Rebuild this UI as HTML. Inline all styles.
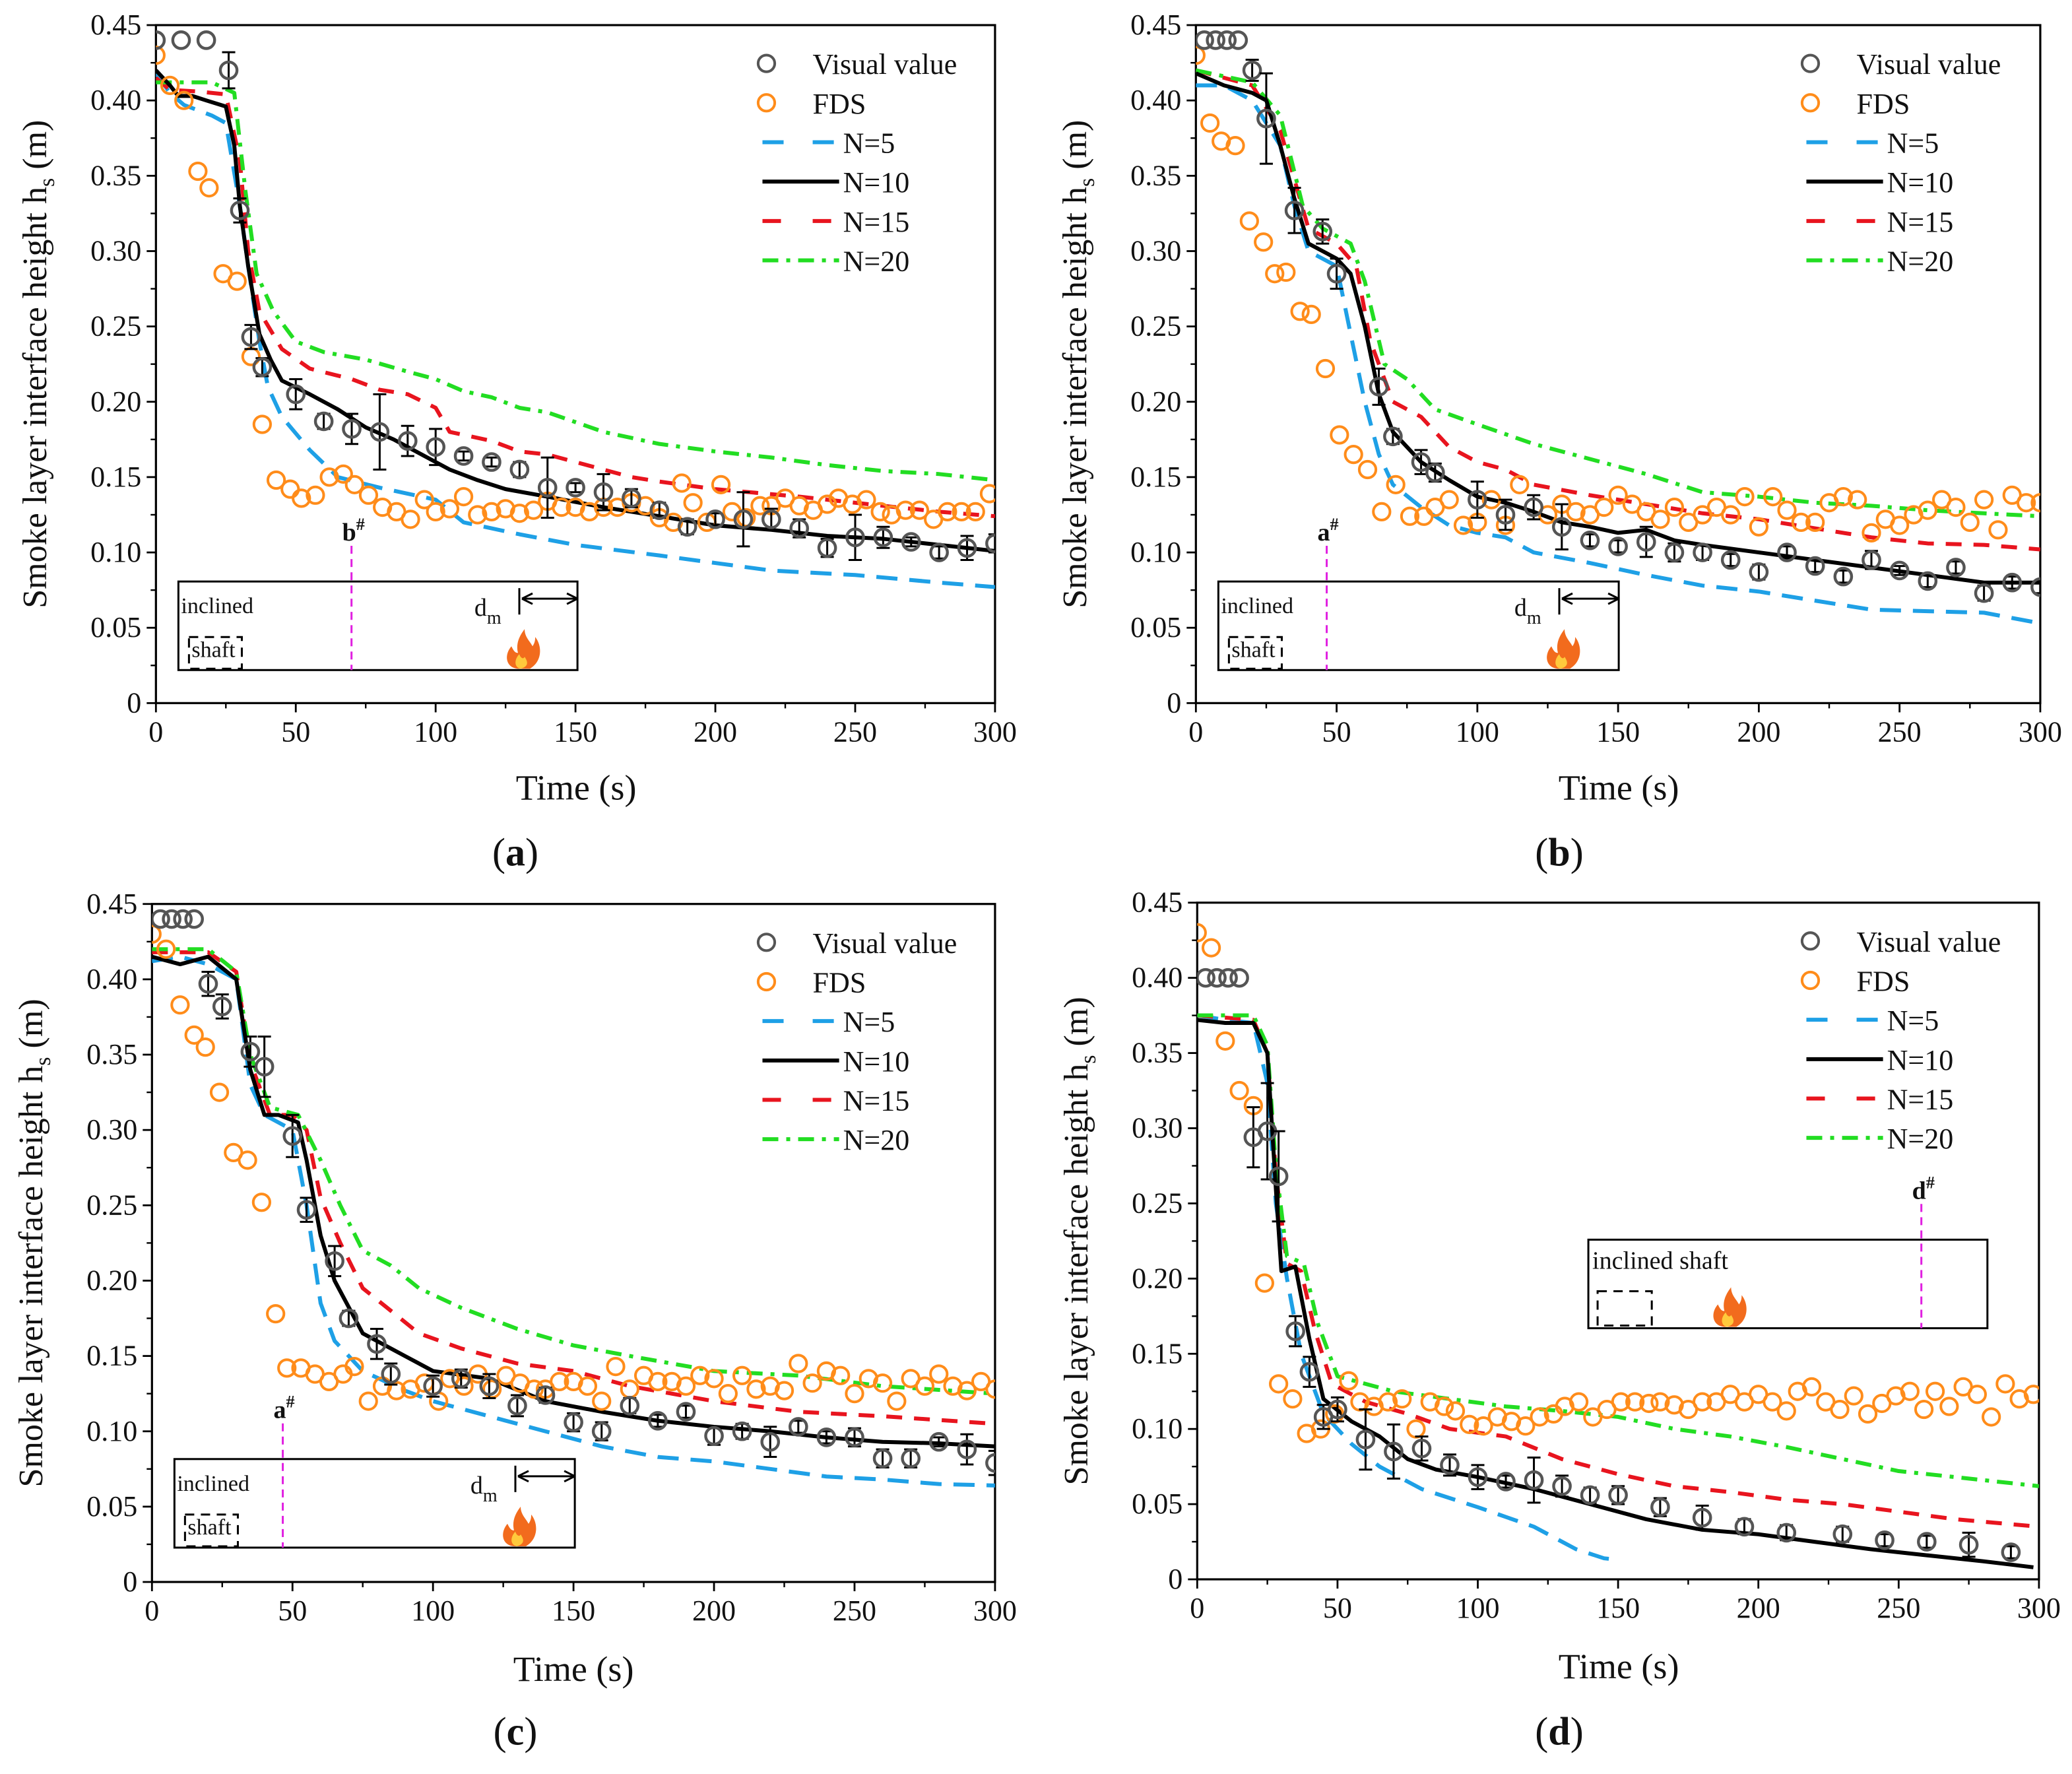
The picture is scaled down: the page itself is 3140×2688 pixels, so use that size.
<!DOCTYPE html>
<html><head><meta charset="utf-8"><style>
html,body{margin:0;padding:0;background:#fff;}
svg{display:block;font-family:"Liberation Serif","DejaVu Serif",serif;}
svg text{font-family:"Liberation Serif","DejaVu Serif",serif;fill:#111;}
</style></head><body>
<svg id="fig" width="3140" height="2688" viewBox="0 0 1568 1342.3" font-family="Liberation Serif, DejaVu Serif, serif" xmlns="http://www.w3.org/2000/svg"></svg>
<script>
// ---- Panel (a) data ----
const aVisT=[0,9,18,26,30,34,38,50,60,70,80,90,100,110,120,130,140,150,160,170,180,190,200,210,220,230,240,250,260,270,280,290,300];
const aVisV=[0.44,0.44,0.44,0.42,0.327,0.243,0.223,0.205,0.187,0.182,0.18,0.174,0.17,0.164,0.16,0.155,0.143,0.143,0.14,0.136,0.128,0.117,0.122,0.122,0.122,0.116,0.103,0.11,0.11,0.107,0.1,0.103,0.106];
const aVisE=[0,0,0,0.012,0.008,0.008,0.006,0.01,0.005,0.01,0.025,0.01,0.012,0.003,0.003,0.005,0.02,0.003,0.012,0.006,0.005,0.005,0.004,0.018,0.007,0.006,0.006,0.015,0.007,0.003,0.004,0.008,0.006];
const aFdsT=[0,5,10,15,19,24,29,34,38,43,48,52,57,62,67,71,76,81,86,91,96,100,105,110,115,120,125,130,135,140,145,150,155,160,165,170,175,180,185,188,192,197,202,206,211,216,220,225,230,235,240,244,249,254,259,263,268,273,278,283,288,293,298];
const aFdsV=[0.43,0.41,0.40,0.353,0.342,0.285,0.28,0.23,0.185,0.148,0.142,0.136,0.138,0.15,0.152,0.145,0.138,0.13,0.127,0.122,0.135,0.127,0.129,0.137,0.125,0.127,0.129,0.126,0.128,0.134,0.13,0.13,0.127,0.13,0.13,0.133,0.131,0.123,0.12,0.146,0.133,0.12,0.145,0.127,0.123,0.131,0.131,0.136,0.131,0.128,0.132,0.136,0.132,0.135,0.127,0.125,0.128,0.128,0.122,0.127,0.127,0.127,0.139];
const aN5T=[0,5,10,20,25,30,33,37,40,45,55,65,80,100,110,130,150,180,200,220,250,280,300];
const aN5V=[0.418,0.405,0.397,0.39,0.385,0.33,0.29,0.24,0.21,0.19,0.168,0.15,0.143,0.135,0.12,0.112,0.105,0.098,0.093,0.088,0.085,0.08,0.077];
const aN10T=[0,5,8,13,18,25,28,30,33,37,41,45,55,65,75,85,95,100,105,115,125,140,160,180,200,220,240,260,280,300];
const aN10V=[0.42,0.41,0.403,0.403,0.4,0.396,0.37,0.33,0.29,0.245,0.228,0.214,0.205,0.195,0.183,0.175,0.165,0.16,0.155,0.148,0.142,0.137,0.13,0.124,0.118,0.115,0.111,0.109,0.105,0.101];
const aN15T=[0,5,15,25,30,33,37,45,55,70,80,90,100,105,120,130,140,150,170,180,200,230,260,280,300];
const aN15V=[0.415,0.407,0.406,0.404,0.36,0.3,0.26,0.235,0.222,0.215,0.208,0.205,0.196,0.18,0.174,0.167,0.165,0.16,0.15,0.147,0.142,0.137,0.131,0.127,0.124];
const aN20T=[0,10,20,28,32,36,42,50,60,75,90,100,110,120,130,140,160,180,200,220,240,260,280,300];
const aN20V=[0.412,0.412,0.412,0.405,0.34,0.285,0.26,0.24,0.233,0.228,0.22,0.215,0.207,0.203,0.196,0.193,0.18,0.172,0.167,0.163,0.158,0.154,0.152,0.148];
// ---- Panel (b) data ----
const bVisT=[3,7,11,15,20,25,35,45,50,65,70,80,85,100,110,120,130,140,150,160,170,180,190,200,210,220,230,240,250,260,270,280,290,300];
const bVisV=[0.44,0.44,0.44,0.44,0.42,0.388,0.327,0.313,0.285,0.21,0.177,0.16,0.153,0.135,0.125,0.13,0.117,0.108,0.104,0.107,0.1,0.1,0.095,0.087,0.1,0.091,0.084,0.095,0.088,0.081,0.09,0.073,0.08,0.077];
const bVisE=[0,0,0,0,0.007,0.03,0.015,0.008,0.01,0.012,0.005,0.008,0.006,0.012,0.01,0.008,0.015,0.004,0.004,0.01,0.006,0.005,0.004,0.005,0.004,0.004,0.004,0.006,0.003,0.004,0.004,0.005,0.004,0.004];
const bFdsT=[0,5,9,14,19,24,28,32,37,41,46,51,56,61,66,71,76,81,85,90,95,100,105,110,115,120,125,130,135,140,145,150,155,160,165,170,175,180,185,190,195,200,205,210,215,220,225,230,235,240,245,250,255,260,265,270,275,280,285,290,295,300];
const bFdsV=[0.43,0.385,0.373,0.37,0.32,0.306,0.285,0.286,0.26,0.258,0.222,0.178,0.165,0.155,0.127,0.145,0.124,0.124,0.13,0.135,0.118,0.12,0.135,0.118,0.145,0.13,0.125,0.132,0.127,0.125,0.13,0.138,0.132,0.127,0.122,0.13,0.12,0.125,0.13,0.125,0.137,0.117,0.137,0.128,0.12,0.12,0.133,0.137,0.135,0.113,0.122,0.118,0.125,0.128,0.135,0.13,0.12,0.135,0.115,0.138,0.133,0.133];
const bN5T=[0,10,20,30,35,40,50,55,60,65,70,80,90,100,110,120,140,160,180,200,220,240,260,280,300];
const bN5V=[0.41,0.41,0.4,0.37,0.33,0.3,0.29,0.245,0.2,0.165,0.145,0.13,0.118,0.113,0.11,0.1,0.093,0.085,0.078,0.074,0.068,0.062,0.061,0.06,0.053];
const bN10T=[0,10,20,25,30,35,40,45,50,55,60,65,70,80,90,100,110,120,130,140,150,160,170,180,200,220,240,260,280,300];
const bN10V=[0.418,0.41,0.405,0.4,0.37,0.335,0.305,0.3,0.295,0.285,0.25,0.205,0.18,0.16,0.148,0.137,0.133,0.127,0.12,0.117,0.113,0.115,0.108,0.105,0.1,0.095,0.09,0.085,0.08,0.08];
const bN15T=[0,20,30,40,50,57,62,70,80,90,100,110,120,140,160,180,200,220,240,260,280,300];
const bN15V=[0.42,0.41,0.38,0.315,0.305,0.29,0.24,0.2,0.19,0.17,0.16,0.155,0.145,0.138,0.132,0.126,0.122,0.116,0.11,0.106,0.105,0.102];
const bN20T=[0,20,30,38,45,55,60,67,75,85,100,120,140,160,180,200,220,240,260,280,300];
const bN20V=[0.42,0.412,0.39,0.33,0.315,0.305,0.28,0.225,0.215,0.195,0.185,0.172,0.162,0.152,0.14,0.137,0.133,0.131,0.128,0.126,0.124];
// ---- Panel (c) data ----
const cVisT=[3,7,11,15,20,25,35,40,50,55,65,70,80,85,100,110,120,130,140,150,160,170,180,190,200,210,220,230,240,250,260,270,280,290,300];
const cVisV=[0.44,0.44,0.44,0.44,0.397,0.382,0.352,0.342,0.296,0.247,0.213,0.175,0.158,0.138,0.13,0.135,0.13,0.117,0.124,0.106,0.1,0.117,0.107,0.113,0.097,0.1,0.093,0.103,0.096,0.096,0.082,0.082,0.093,0.088,0.079];
const cVisE=[0,0,0,0,0.008,0.008,0.01,0.02,0.014,0.008,0.01,0.005,0.01,0.007,0.007,0.006,0.008,0.007,0.005,0.006,0.006,0.005,0.004,0.004,0.006,0.005,0.01,0.004,0.004,0.006,0.006,0.006,0.003,0.01,0.008];
const cFdsT=[0,5,10,15,19,24,29,34,39,44,48,53,58,63,68,72,77,82,87,92,97,102,106,111,116,121,126,131,136,140,145,150,155,160,165,170,175,180,185,190,195,200,205,210,215,220,225,230,235,240,245,250,255,260,265,270,275,280,285,290,295,300];
const cFdsV=[0.43,0.42,0.383,0.363,0.355,0.325,0.285,0.28,0.252,0.178,0.142,0.142,0.138,0.133,0.138,0.143,0.12,0.13,0.127,0.128,0.132,0.12,0.135,0.13,0.138,0.128,0.137,0.132,0.128,0.128,0.133,0.133,0.13,0.12,0.143,0.128,0.137,0.133,0.133,0.13,0.137,0.135,0.125,0.137,0.128,0.13,0.127,0.145,0.132,0.14,0.137,0.125,0.135,0.132,0.12,0.135,0.13,0.138,0.13,0.127,0.133,0.128];
const cN5T=[0,10,20,30,35,40,45,50,55,60,65,75,90,100,120,140,160,180,200,220,240,260,280,300];
const cN5V=[0.412,0.415,0.41,0.4,0.33,0.31,0.305,0.3,0.25,0.185,0.16,0.14,0.127,0.12,0.11,0.1,0.09,0.083,0.08,0.075,0.07,0.068,0.065,0.064];
const cN10T=[0,10,20,30,35,40,45,52,55,60,65,75,90,100,120,140,160,180,200,220,240,260,280,300];
const cN10V=[0.415,0.41,0.415,0.4,0.34,0.31,0.31,0.305,0.28,0.23,0.2,0.165,0.15,0.14,0.135,0.12,0.113,0.107,0.103,0.1,0.096,0.093,0.092,0.09];
const cN15T=[0,20,30,35,42,50,55,60,67,75,85,95,110,130,150,170,200,230,260,300];
const cN15V=[0.418,0.418,0.405,0.345,0.31,0.31,0.3,0.255,0.225,0.195,0.18,0.165,0.155,0.145,0.14,0.13,0.12,0.113,0.11,0.105];
const cN20T=[0,20,30,35,42,52,60,67,75,85,95,110,130,150,170,200,230,260,300];
const cN20V=[0.42,0.42,0.405,0.35,0.315,0.31,0.28,0.25,0.22,0.21,0.195,0.182,0.168,0.157,0.15,0.14,0.137,0.13,0.125];
// ---- Panel (d) data ----
const dVisT=[3,7,11,15,20,25,29,35,40,45,50,60,70,80,90,100,110,120,130,140,150,165,180,195,210,230,245,260,275,290];
const dVisV=[0.40,0.40,0.40,0.40,0.294,0.298,0.268,0.165,0.138,0.108,0.113,0.093,0.085,0.087,0.076,0.068,0.065,0.066,0.062,0.056,0.056,0.048,0.041,0.035,0.031,0.03,0.026,0.025,0.023,0.018];
const dVisE=[0,0,0,0,0.02,0.032,0.03,0.01,0.01,0.008,0.008,0.02,0.018,0.008,0.007,0.008,0.004,0.015,0.007,0.005,0.006,0.006,0.008,0.005,0.005,0.005,0.004,0.004,0.008,0.004];
const dFdsT=[0,5,10,15,20,24,29,34,39,44,49,54,58,63,68,73,78,83,88,92,97,102,107,112,117,122,127,131,136,141,146,151,156,161,165,170,175,180,185,190,195,200,205,210,214,219,224,229,234,239,244,249,254,259,263,268,273,278,283,288,293,298];
const dFdsV=[0.43,0.42,0.358,0.325,0.315,0.197,0.13,0.12,0.097,0.1,0.11,0.132,0.118,0.115,0.118,0.12,0.1,0.118,0.115,0.112,0.103,0.102,0.108,0.105,0.102,0.108,0.11,0.115,0.118,0.108,0.113,0.118,0.118,0.117,0.118,0.116,0.113,0.118,0.118,0.123,0.118,0.123,0.118,0.112,0.125,0.128,0.118,0.113,0.122,0.11,0.117,0.122,0.125,0.113,0.125,0.115,0.128,0.123,0.108,0.13,0.12,0.123];
const dN5T=[0,10,20,25,28,32,37,45,55,65,80,100,120,135,145,150];
const dN5V=[0.375,0.372,0.37,0.33,0.25,0.2,0.15,0.11,0.09,0.075,0.06,0.048,0.035,0.02,0.014,0.013];
const dN10T=[0,10,20,25,28,30,35,40,45,55,65,75,85,100,120,140,160,180,200,220,240,260,280,298];
const dN10V=[0.372,0.37,0.37,0.35,0.26,0.205,0.208,0.16,0.12,0.105,0.095,0.08,0.073,0.068,0.06,0.05,0.04,0.033,0.03,0.025,0.02,0.016,0.012,0.008];
const dN15T=[0,20,25,28,32,37,42,48,60,75,90,110,130,150,170,190,210,230,250,270,300];
const dN15V=[0.375,0.372,0.35,0.27,0.21,0.205,0.165,0.13,0.118,0.11,0.1,0.095,0.08,0.07,0.062,0.058,0.053,0.05,0.045,0.04,0.035];
const dN20T=[0,20,25,28,32,38,43,50,70,90,110,130,150,170,190,210,230,250,270,300];
const dN20V=[0.375,0.375,0.355,0.275,0.215,0.21,0.17,0.135,0.125,0.12,0.115,0.112,0.108,0.1,0.095,0.088,0.08,0.072,0.068,0.062];
// ---- axis ticks ----
const xTicks=[0,50,100,150,200,250,300];
const yTicks=[0,0.05,0.10,0.15,0.20,0.25,0.30,0.35,0.40,0.45];
const yTickLabels=["0","0.05","0.10","0.15","0.20","0.25","0.30","0.35","0.40","0.45"];
const legendLabels=["Visual value","FDS","N=5","N=10","N=15","N=20"];

const NS="http://www.w3.org/2000/svg";
const svg=document.getElementById('fig');
const FF='"Liberation Serif", "DejaVu Serif", serif';
function mk(tag,attrs,parent){const e=document.createElementNS(NS,tag);for(const k in attrs)e.setAttribute(k,attrs[k]);if(tag==='text')e.setAttribute('font-family',FF);(parent||svg).appendChild(e);return e;}
const C={vis:'#555',fds:'#FF8C1A',n5:'#1EA0E6',n10:'#000',n15:'#E8141E',n20:'#22DD22'};

const panels=[
 {id:'a',x0:118,x1:753,y0:532,y1:19,d:[aVisT,aVisV,aVisE,aFdsT,aFdsV,aN5T,aN5V,aN10T,aN10V,aN15T,aN15V,aN20T,aN20V],leg:[580,48],lab:[390,655],xt:[436,605],inset:{x:135,y:440,w:302,h:67,m:266,ml:'b',type:1}},
 {id:'b',x0:905,x1:1544,y0:532,y1:19,d:[bVisT,bVisV,bVisE,bFdsT,bFdsV,bN5T,bN5V,bN10T,bN10V,bN15T,bN15V,bN20T,bN20V],leg:[1370,48],lab:[1180,655],xt:[1225,605],inset:{x:922,y:440,w:303,h:67,m:1004,ml:'a',type:1}},
 {id:'c',x0:115,x1:753,y0:1197,y1:684,d:[cVisT,cVisV,cVisE,cFdsT,cFdsV,cN5T,cN5V,cN10T,cN10V,cN15T,cN15V,cN20T,cN20V],leg:[580,713],lab:[390,1320],xt:[434,1272],inset:{x:132,y:1104,w:303,h:67,m:214,ml:'a',type:1}},
 {id:'d',x0:906,x1:1543,y0:1195,y1:683,d:[dVisT,dVisV,dVisE,dFdsT,dFdsV,dN5T,dN5V,dN10T,dN10V,dN15T,dN15V,dN20T,dN20V],leg:[1370,712],lab:[1180,1320],xt:[1225,1270],inset:{x:1202,y:938,w:302,h:67,m:1454,ml:'d',type:2}}
];

panels.forEach(p=>{
 const g=mk('g',{});
 
 
 const X=t=>p.x0+(p.x1-p.x0)*t/300;
 const Y=v=>p.y0+(p.y1-p.y0)*v/0.45;
 const cp=mk('clipPath',{id:'clip'+p.id},g);
 mk('rect',{x:p.x0,y:p.y1,width:p.x1-p.x0,height:p.y0-p.y1},cp);
 const I=p.inset;
 const ig=mk('g',{},g);
 
 
 mk('rect',{x:I.x,y:I.y,width:I.w,height:I.h,fill:'#fff',stroke:'#000','stroke-width':1.5},ig);
 let fx;
 if(I.type===1){
  const t1=mk('text',{x:I.x+2,y:I.y+24,'font-size':17},ig);t1.textContent='inclined';
  mk('rect',{x:I.x+8,y:I.y+42,width:40,height:24,fill:'none',stroke:'#000','stroke-width':1.5,'stroke-dasharray':'7,5'},ig);
  const t2=mk('text',{x:I.x+10,y:I.y+57,'font-size':17},ig);t2.textContent='shaft';
  const dm=mk('text',{x:I.x+224,y:I.y+26,'font-size':19},ig);dm.innerHTML='d<tspan font-size="14" dy="6">m</tspan>';
  mk('line',{x1:I.x+258,y1:I.y+5,x2:I.x+258,y2:I.y+25,stroke:'#000','stroke-width':1.5},ig);
  mk('line',{x1:I.x+260,y1:I.y+13,x2:I.x+I.w,y2:I.y+13,stroke:'#000','stroke-width':1.5},ig);
  mk('path',{d:`M${I.x+260},${I.y+13} l8,-4 M${I.x+260},${I.y+13} l8,4 M${I.x+I.w},${I.y+13} l-8,-4 M${I.x+I.w},${I.y+13} l-8,4`,stroke:'#000','stroke-width':1.5,fill:'none'},ig);
  fx=I.x+258;
 } else {
  const t1=mk('text',{x:I.x+3,y:I.y+22,'font-size':19},ig);t1.textContent='inclined shaft';
  mk('rect',{x:I.x+7,y:I.y+39,width:41,height:26,fill:'none',stroke:'#000','stroke-width':1.5,'stroke-dasharray':'7,5'},ig);
  fx=I.x+104;
 }
 mk('path',{d:`M${fx},${I.y+66} c-10,0 -12,-10 -6,-17 c2,4 3,5 5,5 c-2,-8 2,-14 5,-18 c0,6 4,9 6,13 c2,-3 2,-5 2,-7 c5,6 6,18 -4,24 z`,fill:'#F26B1D'},ig);
 mk('path',{d:`M${fx+1},${I.y+66} c-5,-1 -5,-7 -1,-11 c1,3 3,4 4,2 c2,3 4,7 -3,9 z`,fill:'#FFC93C'},ig);
 const ml=mk('line',{x1:I.m,y1:I.y-27,x2:I.m,y2:I.y+I.h,stroke:'#E020E0','stroke-width':1.5,'stroke-dasharray':'6,4'},ig);
 
 
 const mt=mk('text',{x:I.m-7,y:I.y-31,'font-size':19,'font-weight':'bold'},ig);mt.innerHTML=I.ml+'<tspan font-size="13" dy="-8">#</tspan>';
 const fr=mk('rect',{x:p.x0,y:p.y1,width:p.x1-p.x0,height:p.y0-p.y1,fill:'none',stroke:'#000','stroke-width':1.6},g);
 
 
 xTicks.forEach((t,i)=>{
  mk('line',{x1:X(t),y1:p.y0,x2:X(t),y2:p.y0+7,stroke:'#000','stroke-width':1.4},g);
  if(i<xTicks.length-1) mk('line',{x1:X(t+25),y1:p.y0,x2:X(t+25),y2:p.y0+4,stroke:'#000','stroke-width':1.2},g);
  const tx=mk('text',{x:X(t),y:p.y0+29,'font-size':22,'text-anchor':'middle'},g);
  tx.textContent=t;
  
  
 });
 yTicks.forEach((v,i)=>{
  mk('line',{x1:p.x0,y1:Y(v),x2:p.x0-7,y2:Y(v),stroke:'#000','stroke-width':1.4},g);
  if(i<yTicks.length-1) mk('line',{x1:p.x0,y1:Y(v+0.025),x2:p.x0-4,y2:Y(v+0.025),stroke:'#000','stroke-width':1.2},g);
  const ty=mk('text',{x:p.x0-11,y:Y(v)+7,'font-size':22,'text-anchor':'end'},g);
  ty.textContent=yTickLabels[i];
  
  
 });
 const xt=mk('text',{x:p.xt[0],y:p.xt[1],'font-size':27,'text-anchor':'middle'},g);
 xt.textContent='Time (s)';
 
 
 const ym=(p.y0+p.y1)/2;
 const ytx=p.x0-83;
 const yt=mk('text',{x:ytx,y:ym,'font-size':26,'text-anchor':'middle',transform:`rotate(-90 ${ytx} ${ym})`},g);
 yt.innerHTML='Smoke layer interface height  h<tspan font-size="17" dy="6">s</tspan><tspan dy="-6"> (m)</tspan>';
 
 
 const pl=mk('text',{x:p.lab[0],y:p.lab[1],'font-size':30,'text-anchor':'middle'},g);
 pl.innerHTML='(<tspan font-weight="bold">'+p.id+'</tspan>)';
 
 
 const dg=mk('g',{'clip-path':`url(#clip${p.id})`},g);
 const [vt,vv,ve,ft,fv,t5,v5,t10,v10,t15,v15,t20,v20]=p.d;
 const line=(T,V,col,dash,name)=>{
  const el=mk('path',{d:T.map((t,i)=>(i?'L':'M')+X(t).toFixed(1)+','+Y(V[i]).toFixed(1)).join(''),fill:'none',stroke:col,'stroke-width':3,'stroke-dasharray':dash,'stroke-linejoin':'round'},dg);
  
  
 };
 line(t5,v5,C.n5,'16,9','line-n5');
 line(t15,v15,C.n15,'12,9','line-n15');
 line(t20,v20,C.n20,'12,6,3,6','line-n20');
 line(t10,v10,C.n10,'none','line-n10');
 ft.forEach((t,i)=>{
  const c=mk('circle',{cx:X(t),cy:Y(fv[i]),r:6.3,fill:'none',stroke:C.fds,'stroke-width':2},dg);
  
  
 });
 vt.forEach((t,i)=>{
  if(ve[i]>0){
   const x=X(t),ya=Y(vv[i]+ve[i]),yb=Y(vv[i]-ve[i]);
   mk('path',{d:`M${x},${ya}V${yb}M${x-5},${ya}h10M${x-5},${yb}h10`,stroke:'#000','stroke-width':1.5,fill:'none'},dg);
  }
  const c=mk('circle',{cx:X(t),cy:Y(vv[i]),r:6.3,fill:'none',stroke:C.vis,'stroke-width':2.2},dg);
  
  
 });
 const lg=mk('g',{},g);
 
 
 const [lx,ly]=p.leg;
 legendLabels.forEach((s,i)=>{
  const y=ly+i*29.8;
  if(i<2){
   mk('circle',{cx:lx,cy:y,r:6.3,fill:'none',stroke:i?C.fds:C.vis,'stroke-width':2},lg);
  } else {
   const cols=[C.n5,C.n10,C.n15,C.n20],das=['16,22','none','14,24','12,6,3,6'];
   mk('line',{x1:lx-3,y1:y,x2:lx+55,y2:y,stroke:cols[i-2],'stroke-width':3,'stroke-dasharray':das[i-2]},lg);
  }
  const t=mk('text',{x:i<2?lx+35:lx+58,y:y+8,'font-size':22},lg);
  t.textContent=s;
  
  
 });
});
</script>
</body></html>
